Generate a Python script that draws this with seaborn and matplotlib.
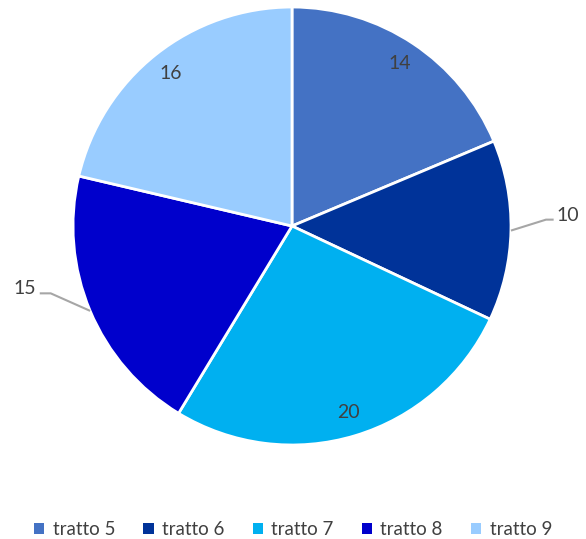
import numpy as np
import matplotlib
matplotlib.use("Agg")
import matplotlib.pyplot as plt
import seaborn as sns
from matplotlib.patches import Patch

sns.set_theme(style="white")
plt.rcParams['font.family'] = ['Lato', 'DejaVu Sans']

# data
categories = ["tratto 5", "tratto 6", "tratto 7", "tratto 8", "tratto 9"]
values = [14, 10, 20, 15, 16]
colors = ["#4472C4", "#003399", "#00B0F0", "#0000CC", "#99CCFF"]
outside = ["tratto 6", "tratto 8"]

text_col = "#404040"
line_col = "#A6A6A6"

fig = plt.figure(figsize=(5.86, 5.39), dpi=100)
ax = fig.add_axes([0.1246, 0.1744, 0.7474, 0.8126])

wedges, _ = ax.pie(values, colors=colors, startangle=90, counterclock=False,
                   wedgeprops=dict(edgecolor="white", linewidth=2))
ax.set_aspect("equal")
ax.set_xlim(-1, 1)
ax.set_ylim(-1, 1)

for w, cat, v in zip(wedges, categories, values):
    mid = np.deg2rad((w.theta1 + w.theta2) / 2)
    c, s = np.cos(mid), np.sin(mid)
    if cat in outside:
        side = np.sign(c)
        p0 = (c, s)
        if side > 0:
            p1 = (c + 0.16, s + 0.05)
            p2 = (p1[0] + 0.035, p1[1])
        else:
            p1 = (c - 0.18, s + 0.08)
            p2 = (p1[0] - 0.05, p1[1])
        ax.plot([p0[0], p1[0], p2[0]], [p0[1], p1[1], p2[1]], color=line_col,
                lw=1.5, clip_on=False, solid_capstyle="butt")
        ax.text(p2[0] + side * 0.015, p2[1] + 0.02, str(v), ha="left" if side > 0 else "right",
                va="center", fontsize=14, color=text_col, clip_on=False)
    else:
        ax.text(0.89 * c, 0.89 * s, str(v), ha="center", va="center",
                fontsize=14, color=text_col)

handles = [Patch(facecolor=col, edgecolor="none") for col in colors]
fig.legend(handles, categories, loc="center", bbox_to_anchor=(0.5, 0.018),
           ncol=5, frameon=False, fontsize=13.5, handlelength=0.55, handleheight=0.55,
           handletextpad=0.45, columnspacing=1.5, labelcolor=text_col)

fig.savefig("out.png", dpi=100)
